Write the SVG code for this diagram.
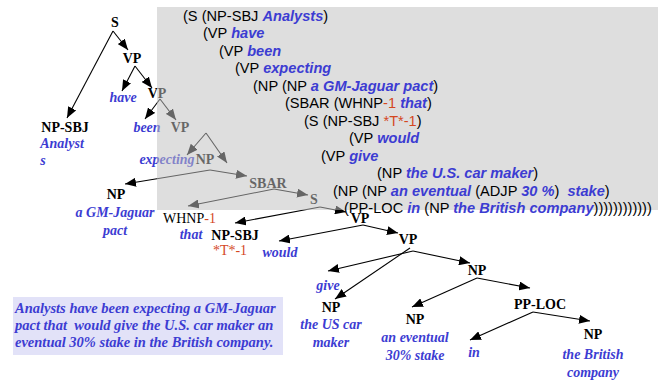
<svg xmlns="http://www.w3.org/2000/svg" width="658" height="382" viewBox="0 0 658 382">
  <defs>
    <marker id="tip" markerUnits="userSpaceOnUse" markerWidth="11" markerHeight="9" refX="11" refY="4.5" orient="auto">
      <path d="M0,0 L11,4.5 L0,9 z" fill="#000"/>
    </marker>
  </defs>
  <style>
    .lbl { font-family: "Liberation Serif", "Times New Roman", serif; font-size: 14px; font-weight: bold; fill: #000; text-anchor: middle; }
    .wd { font-family: "Liberation Serif", "Times New Roman", serif; font-size: 14px; font-weight: bold; font-style: italic; fill: #3c3cd2; text-anchor: middle; }
    .reg { font-family: "Liberation Serif", "Times New Roman", serif; font-size: 14px; fill: #000; }
    .tr { fill: #d4471f; }
    .edge { stroke: #000; stroke-width: 1.1; fill: none; marker-end: url(#tip); }
    .br { font-family: "Liberation Sans", Arial, sans-serif; font-size: 14.6px; fill: #000; white-space: pre; }
    .bw { font-weight: bold; font-style: italic; fill: #3c3cd2; }
    .note { font-family: "Liberation Serif", "Times New Roman", serif; font-size: 14.5px; font-weight: bold; font-style: italic; fill: #3c3cd2; white-space: pre; }
  </style>

  <!-- connectors -->
  <g id="edges">
    <line class="edge" x1="113" y1="31" x2="67" y2="118"/>
    <line class="edge" x1="113" y1="31" x2="128" y2="50"/>
    <line class="edge" x1="135" y1="66" x2="122" y2="91"/>
    <line class="edge" x1="135" y1="66" x2="152" y2="88"/>
    <line class="edge" x1="160" y1="99" x2="145" y2="119"/>
    <line class="edge" x1="160" y1="99" x2="176" y2="120"/>
    <line class="edge" x1="206" y1="133" x2="187" y2="155"/>
    <line class="edge" x1="206" y1="133" x2="227" y2="163"/>
    <line class="edge" x1="210" y1="170" x2="125" y2="184"/>
    <line class="edge" x1="210" y1="170" x2="247" y2="176"/>
    <line class="edge" x1="274" y1="189" x2="188" y2="206"/>
    <line class="edge" x1="274" y1="189" x2="308" y2="195"/>
    <line class="edge" x1="320" y1="207" x2="235" y2="223"/>
    <line class="edge" x1="320" y1="207" x2="346" y2="212"/>
    <line class="edge" x1="363" y1="225" x2="279" y2="241"/>
    <line class="edge" x1="363" y1="225" x2="398" y2="233"/>
    <line class="edge" x1="413" y1="251" x2="328" y2="271"/>
    <line class="edge" x1="410" y1="248" x2="335" y2="299"/>
    <line class="edge" x1="413" y1="251" x2="470" y2="263"/>
    <line class="edge" x1="477" y1="278" x2="412" y2="307"/>
    <line class="edge" x1="477" y1="278" x2="530" y2="288"/>
    <line class="edge" x1="533" y1="312" x2="470" y2="340"/>
    <line class="edge" x1="533" y1="312" x2="590" y2="321"/>
  </g>

  <!-- tree nodes -->
  <g id="n-s"><text class="lbl" x="115" y="27">S</text></g>
  <g id="n-np-sbj">
    <text class="lbl" x="65" y="132">NP-SBJ</text>
    <text class="wd" x="62" y="148">Analyst</text>
    <text class="wd" x="43" y="165">s</text>
  </g>
  <g id="n-vp1"><text class="lbl" x="132" y="63">VP</text></g>
  <g id="n-have"><text class="wd" x="123" y="102">have</text></g>
  <g id="n-vp2"><text class="lbl" x="157" y="98">VP</text></g>
  <g id="n-been"><text class="wd" x="147" y="132">been</text></g>
  <g id="n-vp3"><text class="lbl" x="180" y="132">VP</text></g>
  <g id="n-expecting"><text class="wd" x="167" y="164">expecting</text></g>
  <g id="n-np1"><text class="lbl" x="205" y="164">NP</text></g>
  <g id="n-np2">
    <text class="lbl" x="116" y="199">NP</text>
    <text class="wd" x="115" y="217">a GM-Jaguar</text>
    <text class="wd" x="115" y="235">pact</text>
  </g>
  <g id="n-sbar"><text class="lbl" x="268" y="188">SBAR</text></g>
  <g id="n-whnp">
    <text class="reg" x="163" y="223">WHNP<tspan class="tr">-1</tspan></text>
    <text class="wd" x="191" y="239">that</text>
  </g>
  <g id="n-s2"><text class="lbl" x="314" y="204">S</text></g>
  <g id="n-np-sbj2">
    <text class="lbl" x="235" y="240">NP-SBJ</text>
    <text class="reg tr" x="230" y="255" text-anchor="middle">*T*-1</text>
  </g>
  <g id="n-vp4"><text class="lbl" x="360" y="223">VP</text></g>
  <g id="n-would"><text class="wd" x="280" y="257">would</text></g>
  <g id="n-vp5"><text class="lbl" x="408" y="244">VP</text></g>
  <g id="n-give"><text class="wd" x="328" y="290">give</text></g>
  <g id="n-np3">
    <text class="lbl" x="331" y="312">NP</text>
    <text class="wd" x="331" y="329">the US car</text>
    <text class="wd" x="331" y="347">maker</text>
  </g>
  <g id="n-np4"><text class="lbl" x="477" y="275">NP</text></g>
  <g id="n-np5">
    <text class="lbl" x="415" y="324">NP</text>
    <text class="wd" x="415" y="342">an eventual</text>
    <text class="wd" x="415" y="360">30% stake</text>
  </g>
  <g id="n-pp-loc"><text class="lbl" x="540" y="309">PP-LOC</text></g>
  <g id="n-in"><text class="wd" x="474" y="357">in</text></g>
  <g id="n-np6">
    <text class="lbl" x="593" y="339">NP</text>
    <text class="wd" x="593" y="359">the British</text>
    <text class="wd" x="593" y="377">company</text>
  </g>

  <!-- bracketed form on a translucent panel -->
  <g id="bracket-panel">
    <rect x="157" y="7" width="501" height="203" fill="#c0c0c0" fill-opacity="0.53"/>
    <text class="br" x="183" y="21">(S (NP-SBJ <tspan class="bw">Analysts</tspan>)</text>
    <text class="br" x="203" y="38">(VP <tspan class="bw">have</tspan></text>
    <text class="br" x="219" y="56">(VP <tspan class="bw">been</tspan></text>
    <text class="br" x="235" y="73">(VP <tspan class="bw">expecting</tspan></text>
    <text class="br" x="253" y="91">(NP (NP <tspan class="bw">a GM-Jaguar pact</tspan>)</text>
    <text class="br" x="285" y="108">(SBAR (WHNP<tspan class="tr">-1</tspan> <tspan class="bw">that</tspan>)</text>
    <text class="br" x="304" y="126">(S (NP-SBJ <tspan class="tr">*T*-1</tspan>)</text>
    <text class="br" x="349" y="143">(VP <tspan class="bw">would</tspan></text>
    <text class="br" x="321" y="161">(VP <tspan class="bw">give</tspan></text>
    <text class="br" x="377" y="178">(NP <tspan class="bw">the U.S. car maker</tspan>)</text>
    <text class="br" x="333" y="196">(NP (NP <tspan class="bw">an eventual</tspan> (ADJP <tspan class="bw">30 %</tspan>)  <tspan class="bw">stake</tspan>)</text>
    <text class="br" x="344" y="213">(PP-LOC <tspan class="bw">in</tspan> (NP <tspan class="bw">the British company</tspan>))))))))))))</text>
  </g>

  <!-- sentence -->
  <g id="sentence">
    <rect x="13" y="297" width="270" height="58" fill="#e2e2f8"/>
    <text class="note" x="15" y="313">Analysts have been expecting a GM-Jaguar</text>
    <text class="note" x="15" y="330">pact that  would give the U.S. car maker an</text>
    <text class="note" x="15" y="347">eventual 30% stake in the British company.</text>
  </g>
</svg>
